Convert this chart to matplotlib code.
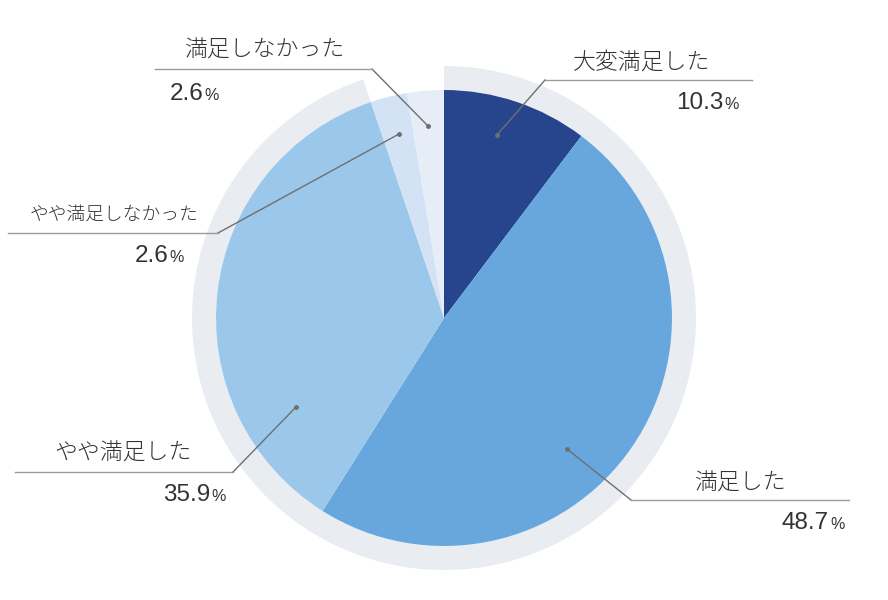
import matplotlib.pyplot as plt
from matplotlib.patches import Wedge

plt.rcParams['font.family'] = ['Noto Sans CJK JP', 'DejaVu Sans']

labels = ['大変満足した', '満足した', 'やや満足した', 'やや満足しなかった', '満足しなかった']
values = [10.3, 48.7, 35.9, 2.6, 2.6]
colors = ['#27458d', '#67a7de', '#9bc8ea', '#d3e3f5', '#e6edf6']
ring_slices = 3  # gray ring only behind the first three answers

W, H = 888, 600
cx, cy, r = 444, 318, 228
ring_w = 24


def fy(y):
    # pixel y (from top) -> data y
    return H - y


fig = plt.figure(figsize=(W / 100, H / 100), dpi=100)
ax = fig.add_axes([0, 0, 1, 1])

total = sum(values)
ring_end = 90
ring_start = 90 - 360 * sum(values[:ring_slices]) / total
ax.add_patch(Wedge((cx, fy(cy)), r + ring_w, ring_start, ring_end, width=ring_w,
                   facecolor='#e9edf1', edgecolor='none', zorder=1))

ax.pie(values, colors=colors, startangle=90, counterclock=False, radius=r,
       center=(cx, fy(cy)), wedgeprops=dict(linewidth=0, zorder=2), frame=True)
ax.set_xlim(0, W)
ax.set_ylim(0, H)
ax.set_aspect('equal')
ax.axis('off')

# leader lines: dot on slice -> elbow -> end of underline
leaders = [
    [(497, 135), (545, 80), (752, 80)],
    [(567, 449), (631, 500), (849, 500)],
    [(296, 407), (233, 472), (15, 472)],
    [(399, 134), (218, 233), (8, 233)],
    [(428, 126), (372, 69), (155, 69)],
]
# (label x, label y, label size, pct right x of number, pct baseline y)
text_pos = [
    (642, 62, 16.5, 723, 109),
    (740, 483, 16.5, 829, 529),
    (123, 453, 16.5, 210, 501),
    (114, 215, 13.5, 168, 262),
    (264, 50, 16.5, 203, 100),
]

for pts, (lx, ly, ls, px, pb), lab, val in zip(leaders, text_pos, labels, values):
    xs = [p[0] for p in pts]
    ys = [fy(p[1]) for p in pts]
    ax.plot(xs[:2], ys[:2], color='#6f6f6f', lw=1, zorder=5)
    ax.plot(xs[1:], ys[1:], color='#9a9a9a', lw=1, zorder=5)
    ax.plot(xs[0], ys[0], 'o', color='#6f6f6f', ms=2.5, zorder=6)
    ax.text(lx, fy(ly), lab, ha='center', va='center', fontsize=ls,
            color='#333333', weight='light')
    ax.text(px, fy(pb), f'{val:.1f}', ha='right', va='baseline', fontsize=17.5,
            color='#333333', family=['Liberation Sans', 'DejaVu Sans'])
    ax.text(px + 1, fy(pb), '%', ha='left', va='baseline', fontsize=11.5,
            color='#333333', family=['Liberation Sans', 'DejaVu Sans'])

fig.savefig('out.png', dpi=100)
